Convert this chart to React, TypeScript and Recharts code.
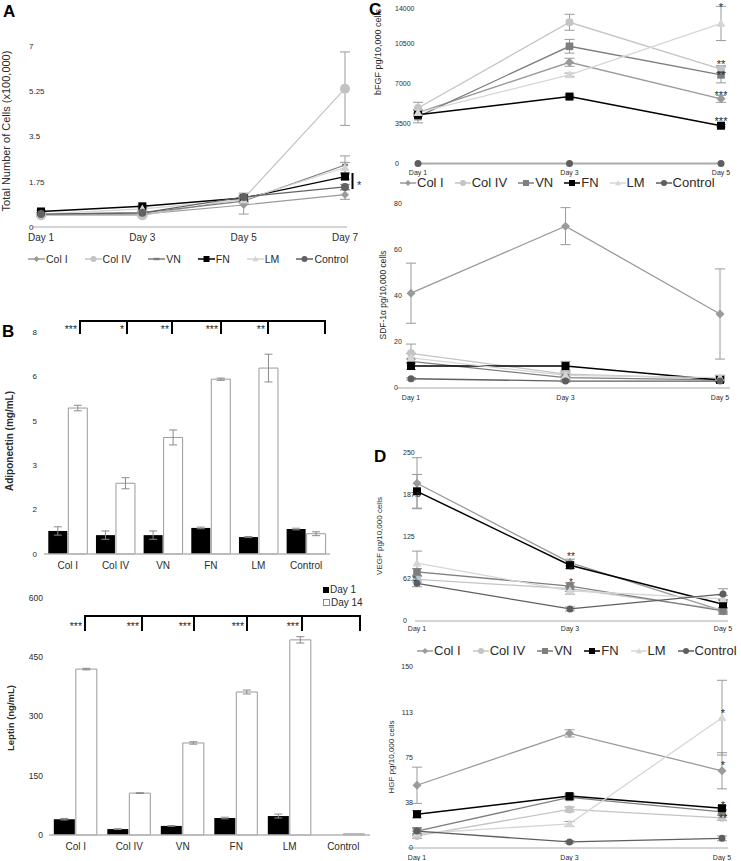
import React from 'react';
import { LineChart, Line, BarChart, Bar, XAxis, YAxis, ErrorBar, Legend } from 'recharts';

const FONT = '"Liberation Sans", Arial, Helvetica, sans-serif';
const INK = '#2b2b2b';

// series order shared by every line panel
const seriesKeys = ['colI', 'colIV', 'vn', 'fn', 'lm', 'control'];
const seriesNames = ['Col I', 'Col IV', 'VN', 'FN', 'LM', 'Control'];

// A: total number of cells (x100,000)
const daysA = ['Day 1', 'Day 3', 'Day 5', 'Day 7'];
const cellsColI = [0.45, 0.5, 0.85, 1.25];
const cellsColIV = [0.45, 0.45, 1.1, 5.35];
const cellsVN = [0.5, 0.55, 1.0, 2.4];
const cellsFN = [0.6, 0.8, 1.12, 1.95];
const cellsLM = [0.5, 0.7, 1.05, 2.3];
const cellsControl = [0.5, 0.55, 1.16, 1.55];
const cellsErrColI = [0.04, 0.05, 0.35, 0.18];
const cellsErrColIV = [0.04, 0.04, 0.1, 1.42];
const cellsErrVN = [0.03, 0.05, 0.1, 0.35];
const cellsErrFN = [0.05, 0.05, 0.05, 0.1];
const cellsErrLM = [0.03, 0.05, 0.1, 0.2];
const cellsErrControl = [0.05, 0.05, 0.15, 0.1];

// B: adipokines, Day 1 vs Day 14
const coatings = ['Col I', 'Col IV', 'VN', 'FN', 'LM', 'Control'];
const adipoDay1 = [0.83, 0.68, 0.68, 0.94, 0.61, 0.9];
const adipoDay1Err = [0.15, 0.15, 0.15, 0.03, 0.02, 0.03];
const adipoDay14 = [5.26, 2.55, 4.2, 6.3, 6.7, 0.73];
const adipoDay14Err = [0.1, 0.2, 0.27, 0.04, 0.5, 0.07];
const leptinDay1 = [40, 15, 23, 43, 48, 0];
const leptinDay1Err = [2, 1, 1, 2, 5, 0];
const leptinDay14 = [420, 106, 233, 362, 494, 3];
const leptinDay14Err = [2, 1, 3, 5, 8, 0];

// C and D: growth factors per 10,000 cells
const days = ['Day 1', 'Day 3', 'Day 5'];
const bfgfColI = [4500, 8900, 5700];
const bfgfColIV = [4900, 12400, 8300];
const bfgfVN = [4150, 10300, 7800];
const bfgfFN = [4300, 5900, 3350];
const bfgfLM = [4500, 7800, 12300];
const bfgfControl = [50, 50, 50];
const bfgfErrColI = [250, 350, 300];
const bfgfErrColIV = [500, 700, 300];
const bfgfErrVN = [550, 600, 700];
const bfgfErrFN = [150, 150, 100];
const bfgfErrLM = [200, 150, 1500];
const bfgfErrControl = [0, 0, 0];

const sdfColI = [41, 70, 32];
const sdfColIV = [15, 6, 4];
const sdfVN = [11.5, 4.5, 3.5];
const sdfFN = [9.5, 9.5, 3.5];
const sdfLM = [13, 5.5, 4.5];
const sdfControl = [4, 3, 3];
const sdfErrColI = [13, 8, 19.5];
const sdfErrColIV = [4, 1, 1];
const sdfErrVN = [1, 1, 1];
const sdfErrFN = [1.5, 2, 0.5];
const sdfErrLM = [2, 1, 1];
const sdfErrControl = [0.5, 0.5, 0.5];

const vegfColI = [205, 87, 15];
const vegfColIV = [62, 48, 17];
const vegfVN = [73, 52, 15];
const vegfFN = [193, 83, 25];
const vegfLM = [86, 45, 33];
const vegfControl = [56, 18, 40];
const vegfErrColI = [38, 5, 5];
const vegfErrColIV = [4, 4, 3];
const vegfErrVN = [5, 5, 3];
const vegfErrFN = [25, 5, 5];
const vegfErrLM = [18, 5, 5];
const vegfErrControl = [5, 3, 8];

const hgfColI = [52, 95, 64];
const hgfColIV = [10, 32, 25];
const hgfVN = [14, 42, 30];
const hgfFN = [28, 43, 33];
const hgfLM = [12, 20, 108];
const hgfControl = [14, 5, 8];
const hgfErrColI = [15, 3, 15];
const hgfErrColIV = [2, 2, 2];
const hgfErrVN = [3, 2, 2];
const hgfErrFN = [3, 2, 2];
const hgfErrLM = [2, 2, 31];
const hgfErrControl = [2, 1, 2];

function toRows(labels: string[], vals: number[][], errs: number[][]) {
  return labels.map((day, i) => {
    const row: any = { day };
    seriesKeys.forEach((k, s) => {
      row[k] = vals[s][i];
      row[k + 'Err'] = errs[s][i];
    });
    return row;
  });
}

const rowsA = toRows(daysA,
  [cellsColI, cellsColIV, cellsVN, cellsFN, cellsLM, cellsControl],
  [cellsErrColI, cellsErrColIV, cellsErrVN, cellsErrFN, cellsErrLM, cellsErrControl]);
const rowsBfgf = toRows(days,
  [bfgfColI, bfgfColIV, bfgfVN, bfgfFN, bfgfLM, bfgfControl],
  [bfgfErrColI, bfgfErrColIV, bfgfErrVN, bfgfErrFN, bfgfErrLM, bfgfErrControl]);
const rowsSdf = toRows(days,
  [sdfColI, sdfColIV, sdfVN, sdfFN, sdfLM, sdfControl],
  [sdfErrColI, sdfErrColIV, sdfErrVN, sdfErrFN, sdfErrLM, sdfErrControl]);
const rowsVegf = toRows(days,
  [vegfColI, vegfColIV, vegfVN, vegfFN, vegfLM, vegfControl],
  [vegfErrColI, vegfErrColIV, vegfErrVN, vegfErrFN, vegfErrLM, vegfErrControl]);
const rowsHgf = toRows(days,
  [hgfColI, hgfColIV, hgfVN, hgfFN, hgfLM, hgfControl],
  [hgfErrColI, hgfErrColIV, hgfErrVN, hgfErrFN, hgfErrLM, hgfErrControl]);

const rowsAdipo = coatings.map((cat, i) => ({
  cat, d1: adipoDay1[i], d1Err: adipoDay1Err[i], d14: adipoDay14[i], d14Err: adipoDay14Err[i],
}));
const rowsLeptin = coatings.map((cat, i) => ({
  cat, d1: leptinDay1[i], d1Err: leptinDay1Err[i], d14: leptinDay14[i], d14Err: leptinDay14Err[i],
}));

type Shape = 'diamond' | 'circle' | 'square' | 'triangle' | 'dash';
interface SeriesStyle { color: string; shape: Shape; r: number; width: number; }

const stylesA: SeriesStyle[] = [
  { color: '#9a9a9a', shape: 'diamond', r: 4, width: 1.2 },
  { color: '#c2c2c2', shape: 'circle', r: 5, width: 1.2 },
  { color: '#7c7c7c', shape: 'dash', r: 3, width: 1.2 },
  { color: '#000000', shape: 'square', r: 4, width: 1.4 },
  { color: '#d3d3d3', shape: 'triangle', r: 4.5, width: 1.2 },
  { color: '#616161', shape: 'circle', r: 4, width: 1.2 },
];
const stylesCD: SeriesStyle[] = [
  { color: '#9a9a9a', shape: 'diamond', r: 4.5, width: 1.3 },
  { color: '#c4c4c4', shape: 'circle', r: 4, width: 1.3 },
  { color: '#7e7e7e', shape: 'square', r: 3.8, width: 1.3 },
  { color: '#000000', shape: 'square', r: 4, width: 1.5 },
  { color: '#d6d6d6', shape: 'triangle', r: 4.5, width: 1.3 },
  { color: '#5e5e5e', shape: 'circle', r: 3.5, width: 1.3 },
];

function Marker({ shape, cx, cy, r, color }: { shape: Shape; cx: number; cy: number; r: number; color: string }) {
  if (shape === 'diamond') return <polygon points={`${cx},${cy - r} ${cx + r},${cy} ${cx},${cy + r} ${cx - r},${cy}`} fill={color} />;
  if (shape === 'square') return <rect x={cx - r} y={cy - r} width={r * 2} height={r * 2} fill={color} />;
  if (shape === 'triangle') return <polygon points={`${cx},${cy - r} ${cx + r},${cy + r * 0.75} ${cx - r},${cy + r * 0.75}`} fill={color} />;
  if (shape === 'dash') return <rect x={cx - r} y={cy - 1.2} width={r * 2} height={2.4} fill={color} />;
  return <circle cx={cx} cy={cy} r={r} fill={color} />;
}

const yTick = (dx: number, anchor: string, size: number, fmt: (v: number) => string) => (p: any) => (
  <text key={`y-${p.index}`} x={p.x + dx} y={p.y + size * 0.35} textAnchor={anchor} fontSize={size} fill={INK} fontFamily={FONT}>
    {fmt(p.payload.value)}
  </text>
);
const xTick = (dy: number, size: number) => (p: any) => (
  <text key={`x-${p.index}`} x={p.x} y={p.y + dy} textAnchor="middle" fontSize={size} fill={INK} fontFamily={FONT}>
    {p.payload.value}
  </text>
);

function LegendRow({ styles, font, gap, swatch, mr }: { styles: SeriesStyle[]; font: number; gap: number; swatch: number; mr: number }) {
  return (
    <div style={{ display: 'flex', alignItems: 'center', gap, fontSize: font, color: INK, fontFamily: FONT, whiteSpace: 'nowrap', lineHeight: 1 }}>
      {styles.map((s, i) => (
        <div key={seriesKeys[i]} style={{ display: 'flex', alignItems: 'center' }}>
          <svg width={swatch} height={10} style={{ display: 'block' }}>
            <line x1={0} y1={5} x2={swatch} y2={5} stroke={s.color} strokeWidth={1.5} />
            <Marker shape={s.shape} cx={swatch / 2} cy={5} r={Math.min(s.r, mr)} color={s.color} />
          </svg>
          <span style={{ marginLeft: 1 }}>{seriesNames[i]}</span>
        </div>
      ))}
    </div>
  );
}

interface Box { top: number; right: number; bottom: number; left: number; }

function LinePanel(props: {
  left: number; top: number; width: number; height: number; margin: Box;
  rows: any[]; yWidth: number; yMax: number; yTicks: number[]; yFmt: (v: number) => string;
  yAnchor: string; yDx: number; yFont: number;
  xHeight: number; xPad: { left: number; right: number }; xDy: number; xFont: number;
  styles: SeriesStyle[];
  legend?: { left: number; top: number; font: number; gap: number; swatch: number; mr: number };
}) {
  const p = props;
  return (
    <div style={{ position: 'absolute', left: p.left, top: p.top }}>
      <LineChart width={p.width} height={p.height} data={p.rows} margin={p.margin}>
        <XAxis dataKey="day" interval={0} height={p.xHeight} padding={p.xPad} tickLine={false} tickSize={0} tickMargin={0}
          axisLine={{ stroke: '#c6c6c6', strokeWidth: 1.5 }} tick={xTick(p.xDy, p.xFont)} />
        <YAxis type="number" domain={[0, p.yMax]} ticks={p.yTicks} width={p.yWidth} axisLine={false} tickLine={false}
          tickSize={0} tickMargin={0} tick={yTick(p.yDx, p.yAnchor, p.yFont, p.yFmt)} />
        {seriesKeys.map((k, s) => {
          const st = p.styles[s];
          return (
            <Line key={k} dataKey={k} name={seriesNames[s]} stroke={st.color} strokeWidth={st.width}
              isAnimationActive={false} activeDot={false}
              dot={(d: any) => <Marker key={`${k}-${d.index}`} shape={st.shape} cx={d.cx} cy={d.cy} r={st.r} color={st.color} />}>
              <ErrorBar dataKey={`${k}Err`} width={5} stroke="#9a9a9a" strokeWidth={1} direction="y" />
            </Line>
          );
        })}
        {p.legend && (
          <Legend layout="horizontal" verticalAlign="middle" align="center"
            wrapperStyle={{ left: p.legend.left, top: p.legend.top, width: 'auto', height: 'auto' }}
            content={() => <LegendRow styles={p.styles} font={p.legend!.font} gap={p.legend!.gap} swatch={p.legend!.swatch} mr={p.legend!.mr} />} />
        )}
      </LineChart>
    </div>
  );
}

function BarPanel(props: {
  left: number; top: number; width: number; height: number; margin: Box; rows: any[];
  yWidth: number; yMax: number; yTicks: number[]; yDx: number; yFont: number; xDy: number; xFont: number;
  gap: string; showLegend?: boolean;
}) {
  const p = props;
  return (
    <div style={{ position: 'absolute', left: p.left, top: p.top }}>
      <BarChart width={p.width} height={p.height} data={p.rows} margin={p.margin} barCategoryGap={p.gap} barGap={1}>
        <XAxis dataKey="cat" interval={0} height={20} tickLine={false} tickSize={0} tickMargin={0}
          axisLine={{ stroke: '#b4b4b4', strokeWidth: 1.5 }} tick={xTick(p.xDy, p.xFont)} />
        <YAxis type="number" domain={[0, p.yMax]} ticks={p.yTicks} width={p.yWidth} axisLine={false} tickLine={false}
          tickSize={0} tickMargin={0} tick={yTick(p.yDx, 'end', p.yFont, (v) => String(Math.round(v)))} />
        <Bar dataKey="d1" name="Day 1" fill="#000" isAnimationActive={false}>
          <ErrorBar dataKey="d1Err" width={4} stroke="#8a8a8a" strokeWidth={1} />
        </Bar>
        <Bar dataKey="d14" name="Day 14" fill="#fff" stroke="#9a9a9a" strokeWidth={1} isAnimationActive={false}>
          <ErrorBar dataKey="d14Err" width={4} stroke="#8a8a8a" strokeWidth={1} />
        </Bar>
        {p.showLegend && (
          <Legend layout="horizontal" verticalAlign="middle" align="center"
            wrapperStyle={{ left: 323, top: 3, width: 'auto', height: 'auto' }}
            content={() => (
              <div style={{ fontSize: 10, color: INK, fontFamily: FONT, lineHeight: '13px' }}>
                <div style={{ display: 'flex', alignItems: 'center' }}>
                  <span style={{ display: 'inline-block', width: 6, height: 6, background: '#000', marginRight: 1 }} />Day 1
                </div>
                <div style={{ display: 'flex', alignItems: 'center' }}>
                  <span style={{ display: 'inline-block', width: 5, height: 5, border: '1px solid #888', background: '#fff', marginRight: 1 }} />Day 14
                </div>
              </div>
            )} />
        )}
      </BarChart>
    </div>
  );
}

// annotations drawn over the charts
const panelLetters: [string, number, number][] = [['A', 3, 17], ['B', 2, 337], ['C', 369, 15], ['D', 374, 462]];
const yTitles: { text: string; x: number; y: number; size: number; bold?: boolean }[] = [
  { text: 'Total Number of Cells (x100,000)', x: 6, y: 131, size: 11 },
  { text: 'Adiponectin (mg/mL)', x: 9, y: 441, size: 10, bold: true },
  { text: 'Leptin (ng/mL)', x: 11, y: 718, size: 9.5, bold: true },
  { text: 'bFGF pg/10,000 cells', x: 378, y: 52, size: 9 },
  { text: 'SDF-1α pg/10,000 cells', x: 383, y: 295, size: 8.5 },
  { text: 'VEGF pg/10,000 cells', x: 379, y: 536, size: 8 },
  { text: 'HGF pg/10,000 cells', x: 391, y: 757, size: 8 },
];
const adipoBracketX = [80, 127, 172, 221, 268, 325];
const adipoStars = ['***', '*', '**', '***', '**'];
const leptinBracketX = [85, 142, 194, 247, 302, 360];
const leptinStars = ['***', '***', '***', '***', '***'];
const lineStars: [string, number, number, number][] = [
  ['*', 357, 189, 11],
  ['*', 721, 10.5, 11], ['**', 721, 67.5, 11], ['**', 721, 78.5, 11], ['***', 721, 98.5, 11], ['***', 721, 124.5, 11],
  ['**', 571, 560, 10], ['*', 571, 573.5, 10], ['*', 571, 585.5, 10],
  ['*', 723, 716.5, 11], ['*', 723, 768.5, 11], ['*', 723, 808.5, 11], ['**', 723, 821.5, 11],
];

function Overlay() {
  const bracket = (xs: number[], y: number, drop: number, stars: string[], sy: number) => (
    <g>
      <line x1={xs[0] - 1} y1={y} x2={xs[xs.length - 1] + 1} y2={y} stroke="#000" strokeWidth={2} />
      {xs.map((x) => <line key={x} x1={x} y1={y} x2={x} y2={y + drop} stroke="#000" strokeWidth={2} />)}
      {stars.map((s, i) => (
        <text key={i} x={xs[i] - 3} y={sy} textAnchor="end" fontSize={10.5} fill={INK}>{s}</text>
      ))}
    </g>
  );
  return (
    <svg width={741} height={861} style={{ position: 'absolute', left: 0, top: 0, pointerEvents: 'none', fontFamily: FONT }}>
      {panelLetters.map(([t, x, y]) => (
        <text key={t} x={x} y={y} fontSize={17} fontWeight="bold" fill="#000">{t}</text>
      ))}
      {yTitles.map((t) => (
        <text key={t.text} transform={`translate(${t.x},${t.y}) rotate(-90)`} textAnchor="middle" dy="0.35em"
          fontSize={t.size} fontWeight={t.bold ? 'bold' : 'normal'} fill={INK}>{t.text}</text>
      ))}
      {bracket(adipoBracketX, 321, 13, adipoStars, 332.5)}
      {bracket(leptinBracketX, 616, 15, leptinStars, 629.5)}
      <line x1={352.5} y1={173} x2={352.5} y2={189} stroke="#000" strokeWidth={2} />
      {lineStars.map(([s, x, y, f], i) => (
        <text key={i} x={x} y={y} textAnchor={i === 0 ? 'start' : 'middle'} fontSize={f} fill={INK}>{s}</text>
      ))}
    </svg>
  );
}

export default function App() {
  return (
    <div style={{ position: 'absolute', left: 0, top: 0, width: 741, height: 861, background: '#fff', fontFamily: FONT, overflow: 'hidden' }}>
      <LinePanel left={0} top={0} width={370} height={300} margin={{ top: 46, right: 23, bottom: 53, left: 0 }}
        rows={rowsA} yWidth={33} yMax={7} yTicks={[0, 1.75, 3.5, 5.25, 7]} yFmt={(v) => String(v)}
        yAnchor="start" yDx={-4} yFont={8} xHeight={20} xPad={{ left: 8, right: 2 }} xDy={14} xFont={10}
        styles={stylesA} legend={{ left: 28, top: 254, font: 10.5, gap: 17, swatch: 17, mr: 3 }} />

      <BarPanel left={0} top={300} width={370} height={280} margin={{ top: 32, right: 40, bottom: 6, left: 0 }}
        rows={rowsAdipo} yWidth={44} yMax={8} yTicks={[0, 1.6, 3.2, 4.8, 6.4, 8]} yDx={-7} yFont={8}
        xDy={14.5} xFont={10} gap="9%" />

      <BarPanel left={0} top={580} width={370} height={281} margin={{ top: 18, right: 0, bottom: 6, left: 0 }}
        rows={rowsLeptin} yWidth={49} yMax={600} yTicks={[0, 150, 300, 450, 600]} yDx={-6} yFont={8.5}
        xDy={14.5} xFont={10} gap="9%" showLegend />

      <LinePanel left={370} top={0} width={371} height={200} margin={{ top: 4, right: 17, bottom: 22, left: 0 }}
        rows={rowsBfgf} yWidth={46} yMax={14000} yTicks={[0, 3500, 7000, 10500, 14000]} yFmt={(v) => String(v)}
        yAnchor="start" yDx={-21} yFont={7} xHeight={14} xPad={{ left: 2, right: 3 }} xDy={10.5} xFont={7}
        styles={stylesCD} legend={{ left: 30, top: 176, font: 13, gap: 11, swatch: 16, mr: 3 }} />

      <LinePanel left={370} top={195} width={371} height={225} margin={{ top: 8, right: 11, bottom: 18, left: 0 }}
        rows={rowsSdf} yWidth={27} yMax={80} yTicks={[0, 20, 40, 60, 80]} yFmt={(v) => String(v)}
        yAnchor="start" yDx={-3} yFont={7} xHeight={14} xPad={{ left: 14, right: 10 }} xDy={11.5} xFont={7}
        styles={stylesCD} />

      <LinePanel left={370} top={440} width={371} height={225} margin={{ top: 13, right: 13, bottom: 30, left: 0 }}
        rows={rowsVegf} yWidth={45} yMax={250} yTicks={[0, 62.5, 125, 187.5, 250]} yFmt={(v) => String(v)}
        yAnchor="start" yDx={-12} yFont={7} xHeight={14} xPad={{ left: 2, right: 5 }} xDy={9.5} xFont={7}
        styles={stylesCD} legend={{ left: 47, top: 204, font: 13, gap: 12, swatch: 16, mr: 3 }} />

      <LinePanel left={370} top={655} width={371} height={206} margin={{ top: 12, right: 13, bottom: 0, left: 0 }}
        rows={rowsHgf} yWidth={38} yMax={150} yTicks={[0, 37.5, 75, 112.5, 150]} yFmt={(v) => String(Math.round(v))}
        yAnchor="end" yDx={5} yFont={7} xHeight={13} xPad={{ left: 9, right: 6 }} xDy={11.5} xFont={7}
        styles={stylesCD} />

      <Overlay />
    </div>
  );
}
